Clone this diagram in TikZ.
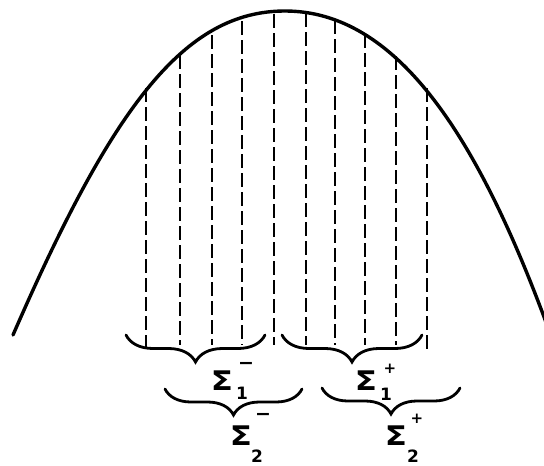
\documentclass[tikz,border=0pt]{standalone}
\usepackage{fontspec}
\newfontfamily\lblfont{DejaVu Sans}
\usetikzlibrary{decorations.pathreplacing}
\begin{document}
\begin{tikzpicture}[x=1pt,y=-1pt,
  curveline/.style={line width=3.4pt,line cap=round},
  stripe/.style={line width=2.4pt,dash pattern=on 14pt off 5pt},
  bracestyle/.style={line width=2.8pt,line cap=round,decorate,decoration={brace,mirror,amplitude=#1}},
  sig/.style={font=\lblfont\bfseries\fontsize{27}{27}\selectfont,inner sep=0pt,xscale=1.2},
  idx/.style={font=\lblfont\bfseries\fontsize{17}{17}\selectfont,inner sep=0pt},
  sgn/.style={font=\lblfont\bfseries\fontsize{19}{19}\selectfont,inner sep=0pt},
  sgnp/.style={font=\lblfont\bfseries\fontsize{15}{15}\selectfont,inner sep=0pt}]
\useasboundingbox (0,0) rectangle (544,466);
% the arch
\coordinate (L) at (13,335);
\coordinate (P) at (285,11);
\coordinate (R) at (547,325);
\draw[curveline] (L) .. controls (113,105) and (185,11) .. (P)
                     .. controls (395,11) and (476,132) .. (R);
% vertical dashed lines
\foreach \x/\t/\b [count=\i] in {146/88/350, 180/55/345, 212/35/345, 242/21/345, 274/14/345,
  306/13/345, 335/20/345, 365/34/345, 396/56/345, 427/88/351} {
  \coordinate (t\i) at (\x,\t);
  \coordinate (b\i) at (\x,\b);
  \draw[stripe] (t\i) -- (b\i);
}
% braces
\coordinate (ba1) at (126,335); \coordinate (bb1) at (265,335);
\coordinate (ba2) at (282,335); \coordinate (bb2) at (422,335);
\coordinate (ba3) at (165,389); \coordinate (bb3) at (302,389);
\coordinate (ba4) at (322,388); \coordinate (bb4) at (460,388);
\draw[bracestyle=27pt] (ba1) -- (bb1);
\draw[bracestyle=27pt] (ba2) -- (bb2);
\draw[bracestyle=26pt] (ba3) -- (bb3);
\draw[bracestyle=26pt] (ba4) -- (bb4);
% labels
\node[sig] (s1m) at (222,381) {Σ};
\node[idx] (i1m) at (242,393) {1};
\node[sgn] (p1m) at (246,366) {−};
\node[sig] (s1p) at (366,381) {Σ};
\node[idx] (i1p) at (386,394) {1};
\node[sgnp] (p1p) at (390,369) {+};
\node[sig] (s2m) at (241,436) {Σ};
\node[idx] (i2m) at (257,456) {2};
\node[sgn] (p2m) at (263,417) {−};
\node[sig] (s2p) at (396,436) {Σ};
\node[idx] (i2p) at (413,456) {2};
\node[sgnp] (p2p) at (417,419) {+};
\end{tikzpicture}
\end{document}
